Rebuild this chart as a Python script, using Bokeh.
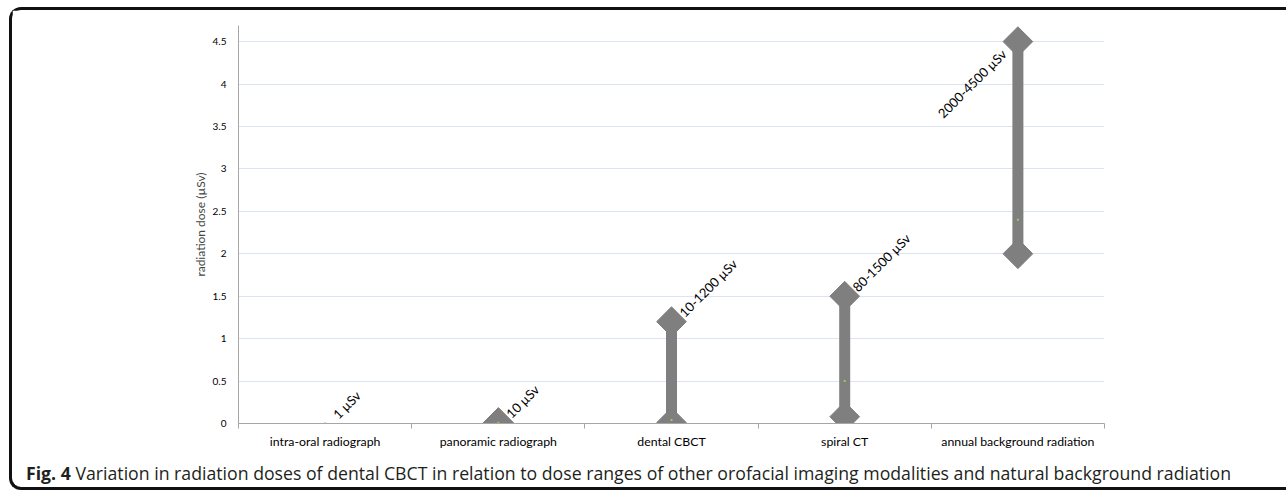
import numpy as np
from bokeh.plotting import figure
from bokeh.layouts import column
from bokeh.models import ColumnDataSource, FixedTicker, Range1d, Div
from bokeh.core.properties import value
from bokeh.embed import file_html
from bokeh.resources import INLINE

categories = ["intra-oral radiograph", "panoramic radiograph", "dental CBCT",
              "spiral CT", "annual background radiation"]
low = [np.nan, 0.01, 0.01, 0.08, 2.0]
high = [np.nan, 0.01, 1.2, 1.5, 4.5]
typical = [0.001, 0.01, 0.04, 0.5, 2.4]
range_labels = ["1 \u00b5Sv", "10 \u00b5Sv", "10-1200 \u00b5Sv", "80-1500 \u00b5Sv", "2000-4500 \u00b5Sv"]
label_y = [0.001, 0.01, 1.2, 1.5, 4.5]
y_ticks = [0, 0.5, 1, 1.5, 2, 2.5, 3, 3.5, 4, 4.5]
caption_bold = "Fig. 4"
caption_text = ("Variation in radiation doses of dental CBCT in relation to dose ranges of other "
                "orofacial imaging modalities and natural background radiation")

xc = [i + 0.5 for i in range(len(categories))]

W, H = 1270, 447
p = figure(width=W, height=H, output_backend="svg", toolbar_location=None,
           x_range=Range1d(0, 5), y_range=Range1d(0, 4.69),
           min_border_left=226, min_border_right=178, min_border_top=15, min_border_bottom=34)
p.outline_line_color = None
p.background_fill_color = "white"
p.border_fill_color = "white"

FONT = "Lato"

# axes
p.xaxis.ticker = FixedTicker(ticks=xc, minor_ticks=list(range(6)))
p.xaxis.major_label_overrides = {x: c for x, c in zip(xc, categories)}
p.xaxis.major_tick_line_color = None
p.xaxis.minor_tick_line_color = "#a6a6a6"
p.xaxis.minor_tick_out = 5
p.xaxis.minor_tick_in = 0
p.xaxis.axis_line_color = "#a6a6a6"
p.xaxis.axis_line_width = 1
p.xaxis.major_label_text_font = FONT
p.xaxis.major_label_text_font_size = "12.3px"
p.xaxis.major_label_text_color = "#000000"
p.xaxis.major_label_standoff = 4

p.yaxis.ticker = FixedTicker(ticks=y_ticks)
p.yaxis.major_label_overrides = {t: ("%g" % t) for t in y_ticks}
p.yaxis.major_tick_line_color = None
p.yaxis.minor_tick_line_color = None
p.yaxis.axis_line_color = "#a6a6a6"
p.yaxis.major_label_text_font = FONT
p.yaxis.major_label_text_font_size = "10px"
p.yaxis.major_label_text_color = "#000000"
p.yaxis.major_label_standoff = 6
p.yaxis.axis_label = "radiation dose (\u00b5Sv)"
p.yaxis.axis_label_text_font = FONT
p.yaxis.axis_label_text_font_style = "normal"
p.yaxis.axis_label_text_font_size = "12px"
p.yaxis.axis_label_standoff = 2

p.xgrid.grid_line_color = None
p.ygrid.grid_line_color = "#dce3f2"
p.ygrid.grid_line_width = 1

src = ColumnDataSource(dict(x=xc, low=low, high=high, typ=typical))

p.segment(x0="x", y0="low", x1="x", y1="high", source=src, line_color="#7f7f7f", line_width=11)
p.scatter(x="x", y="low", source=src, marker="square", angle=np.pi / 4, size=21,
          fill_color="#7f7f7f", line_color="#7f7f7f")
p.scatter(x="x", y="high", source=src, marker="square", angle=np.pi / 4, size=21,
          fill_color="#7f7f7f", line_color="#7f7f7f")
p.scatter(x="x", y="typ", source=src, marker="square", size=2,
          fill_color="#92d050", line_color=None)

# range labels
src_r = ColumnDataSource(dict(x=xc[:4], y=label_y[:4], t=range_labels[:4]))
p.text(x="x", y="y", text="t", source=src_r, angle=np.pi / 4, x_offset=10, y_offset=-7,
       text_font=value(FONT), text_font_size="13px", text_color="#000000",
       text_baseline="alphabetic", text_align="left")
src_l = ColumnDataSource(dict(x=xc[4:], y=label_y[4:], t=range_labels[4:]))
p.text(x="x", y="y", text="t", source=src_l, angle=np.pi / 4, x_offset=-14, y_offset=10,
       text_font=value(FONT), text_font_size="13px", text_color="#000000",
       text_baseline="alphabetic", text_align="right")

cap = Div(text="<b>%s</b> %s" % (caption_bold, caption_text), width=1250,
          styles={"font-family": "Open Sans", "font-size": "17.7px", "color": "#231f20",
                  "margin-left": "14px", "margin-top": "4px", "white-space": "nowrap"})

layout = column(p, cap, styles={
    "border-left": "3px solid #111111", "border-top": "3px solid #111111",
    "border-bottom": "3px solid #111111",
    "border-top-left-radius": "12px", "border-bottom-left-radius": "12px",
    "margin-left": "9px", "margin-top": "7px", "padding-right": "4px",
    "box-sizing": "border-box", "height": "483px"})

open("out.html", "w").write(file_html(layout, INLINE))
